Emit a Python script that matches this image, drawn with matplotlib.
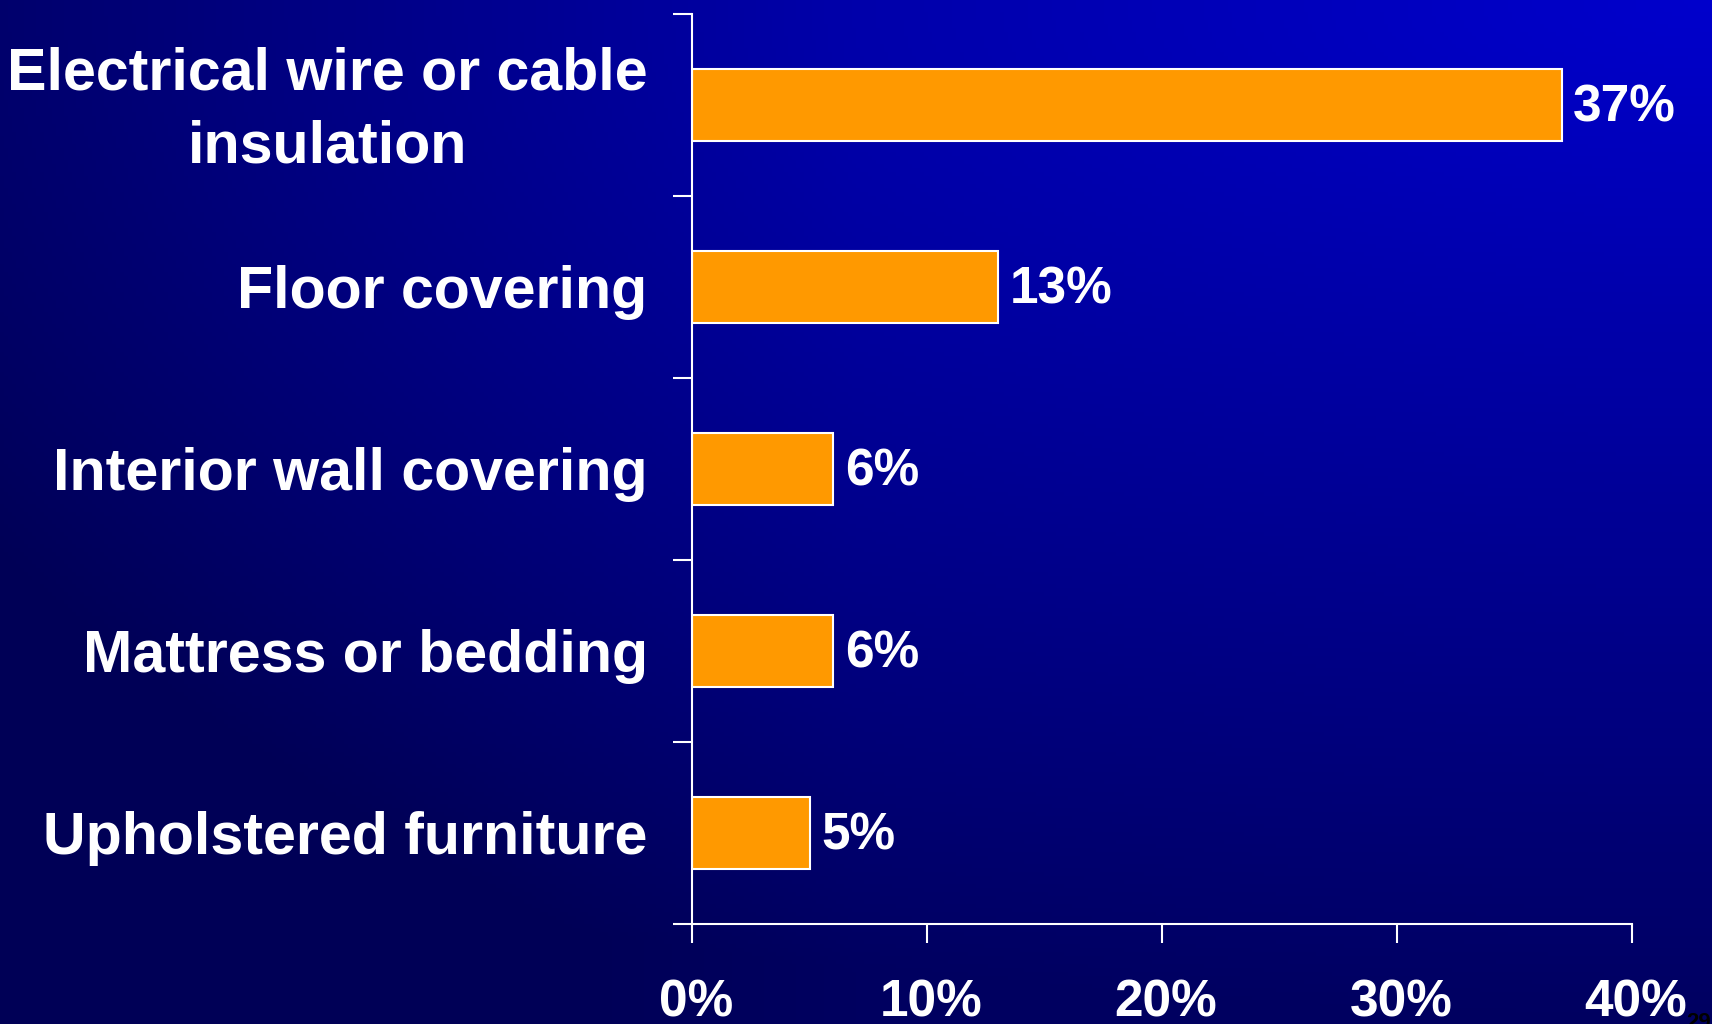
import numpy as np
import matplotlib.pyplot as plt
from matplotlib.transforms import ScaledTranslation

categories = ['Electrical wire or cable\ninsulation', 'Floor covering',
              'Interior wall covering', 'Mattress or bedding',
              'Upholstered furniture']
shares = [37, 13, 6, 6, 5]
x_ticks = [0, 10, 20, 30, 40]
x_labels = ['0%', '10%', '20%', '30%', '40%']

plt.rcParams['font.family'] = ['Liberation Sans', 'DejaVu Sans']

W, H = 1712, 1024
fig = plt.figure(figsize=(W / 100, H / 100), dpi=100)

# background: blue glow from the top-right corner fading to navy,
# with the left side darkening a little more
bg = fig.add_axes([0, 0, 1, 1])
xx, yy = np.meshgrid(np.linspace(0, 1, 428), np.linspace(0, 1, 256))
d = np.sqrt(((1 - xx) / 1.6) ** 2 + yy ** 2)
blue = 204 - 108 * np.clip(d, 0, 1)
blue -= 28 * np.clip(1 - xx / 0.5, 0, 1)
blue = np.clip(blue, 86, 255) / 255
img = np.zeros(xx.shape + (3,))
img[..., 2] = blue
bg.imshow(img, aspect='auto', extent=[0, 1, 0, 1], origin='upper')
bg.set_axis_off()

ax = fig.add_axes([692 / W, 1 - 924 / H, 940 / W, 910 / H])
ax.set_facecolor('none')

ypos = np.arange(len(categories))[::-1]
bars = ax.barh(ypos, shares, height=0.4, color='#FF9900',
               edgecolor='white', linewidth=1.5)
for y, v in zip(ypos, shares):
    ax.text(v + 0.5, y - 0.015, f'{v}%', color='white', fontsize=37,
            fontweight='bold', va='center', ha='left')

ax.set_xlim(0, 40)
ax.set_ylim(-0.5, len(categories) - 0.5)
ax.set_xticks(x_ticks)
ax.set_xticklabels(x_labels)

# category boundaries carry the tick marks, centres carry the labels
ax.set_yticks(np.arange(-0.5, len(categories), 1.0))
ax.set_yticklabels([])
ax.set_yticks(ypos, minor=True)
ax.set_yticklabels(categories, minor=True)
ax.tick_params(axis='y', which='minor', length=0, pad=32,
               labelsize=42.6, labelcolor='white')
drop = ScaledTranslation(0, -5.5 / 100, fig.dpi_scale_trans)
for lbl in ax.get_yticklabels(minor=True):
    lbl.set_fontweight('bold')
    lbl.set_multialignment('center')
    if '\n' in lbl.get_text():
        lbl.set_verticalalignment('center')
        lbl.set_linespacing(1.42)
        lbl.set_transform(lbl.get_transform() + drop)

ax.tick_params(axis='y', which='major', length=14, width=1.5,
               color='white', direction='out')
ax.tick_params(axis='x', length=14, width=1.5, color='white',
               direction='out', pad=25, labelsize=37, labelcolor='white')
shift = ScaledTranslation(4 / 100, 0, fig.dpi_scale_trans)
for lbl in ax.get_xticklabels():
    lbl.set_fontweight('bold')
    lbl.set_transform(lbl.get_transform() + shift)

for side in ['top', 'right']:
    ax.spines[side].set_visible(False)
for side in ['left', 'bottom']:
    ax.spines[side].set_color('white')
    ax.spines[side].set_linewidth(1.5)

fig.text(1686 / W, 1 - 1012 / H, '29', color='black', fontsize=16,
         fontweight='bold', va='top', ha='left')

fig.savefig('out.png', dpi=100)
